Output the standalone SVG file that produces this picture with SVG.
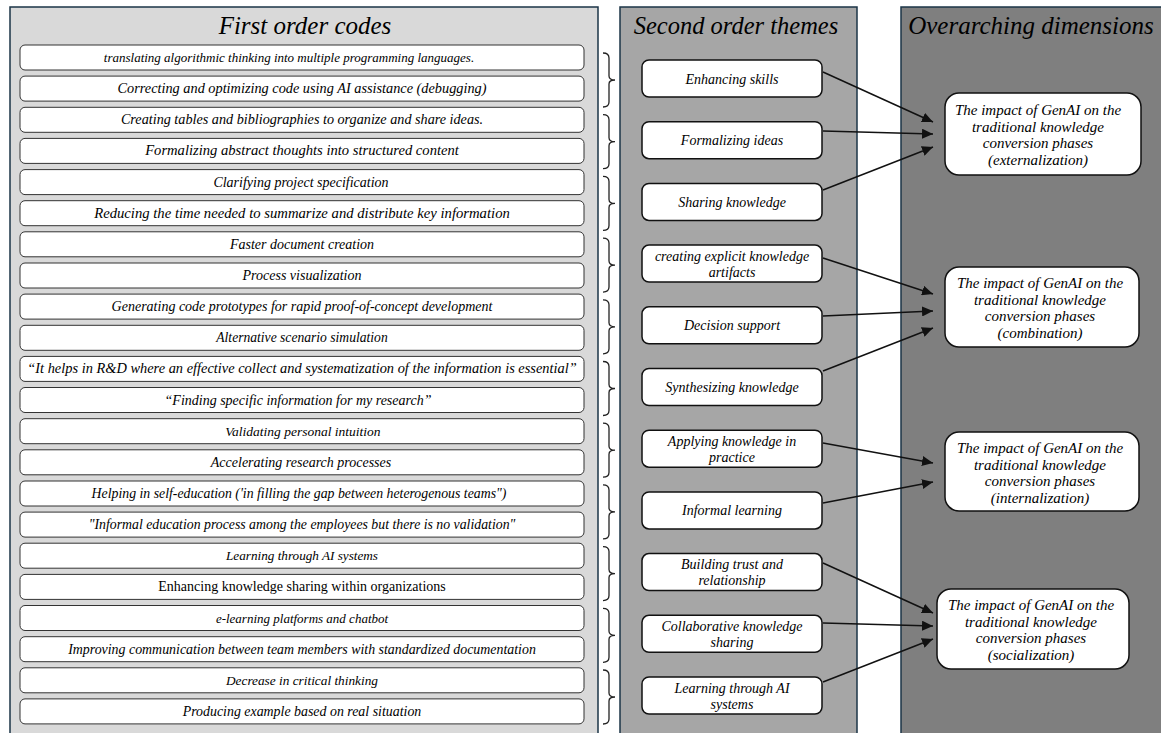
<svg xmlns="http://www.w3.org/2000/svg" width="1161" height="733" viewBox="0 0 1161 733" font-family="'Liberation Serif', 'Times New Roman', 'DejaVu Serif', serif">
<style>
text{font-family:'Liberation Serif','Times New Roman','DejaVu Serif',serif;font-style:italic;fill:#000;text-anchor:middle}
.hdr{font-size:25px}
.it{font-size:14px}
.up{font-style:normal}
.mid{font-size:14px}
.rt{font-size:15px}
.panel{stroke:#1b3447;stroke-width:1.5}
.ibox{fill:#fff;stroke:#333;stroke-width:1}
.mbox{fill:#fff;stroke:#111;stroke-width:1.5}
.rbox{fill:#fff;stroke:#111;stroke-width:1.5}
.br{fill:none;stroke:#222;stroke-width:1.3}
.con{stroke:#111;stroke-width:1.5;fill:none;marker-end:url(#ah)}
</style>
<defs>
<marker id="ah" markerUnits="userSpaceOnUse" markerWidth="12" markerHeight="10" refX="11" refY="5" orient="auto">
<path d="M0,0 L11,5 L0,10 Z" fill="#111"/>
</marker>
<path id="brk" d="M603,-27 Q609,-27 609,-22 L609,-4 Q609,0 615,0 Q609,0 609,4 L609,22 Q609,27 603,27" class="br"/>
</defs>
<rect width="1161" height="733" fill="#fff"/>
<g id="panels">
<rect x="10" y="7" width="588" height="740" fill="#d9d9d9" class="panel"/>
<rect x="620" y="7" width="237" height="740" fill="#a6a6a6" class="panel"/>
<rect x="901" y="7" width="270" height="740" fill="#7f7f7f" class="panel"/>
<text class="hdr" x="305" y="34">First order codes</text>
<text class="hdr" x="736" y="34" style="font-size:24.5px">Second order themes</text>
<text class="hdr" x="1031" y="34">Overarching dimensions</text>
</g>
<g id="first-order">
<g id="c0"><rect class="ibox" x="20" y="45" width="564" height="25" rx="5"/><text class="it" x="289" y="62" style="font-size:13px">translating algorithmic thinking into multiple programming languages.</text></g>
<g id="c1"><rect class="ibox" x="20" y="76.1" width="564" height="25" rx="5"/><text class="it" x="302" y="93.1" style="font-size:14.3px">Correcting and optimizing code using AI assistance (debugging)</text></g>
<g id="c2"><rect class="ibox" x="20" y="107.3" width="564" height="25" rx="5"/><text class="it" x="302" y="124.3" style="font-size:14.2px">Creating tables and bibliographies to organize and share ideas.</text></g>
<g id="c3"><rect class="ibox" x="20" y="138.4" width="564" height="25" rx="5"/><text class="it" x="302" y="155.4" style="font-size:14.6px">Formalizing abstract thoughts into structured content</text></g>
<g id="c4"><rect class="ibox" x="20" y="169.6" width="564" height="25" rx="5"/><text class="it" x="301" y="186.6">Clarifying project specification</text></g>
<g id="c5"><rect class="ibox" x="20" y="200.7" width="564" height="25" rx="5"/><text class="it" x="302" y="217.7" style="font-size:14.7px">Reducing the time needed to summarize and distribute key information</text></g>
<g id="c6"><rect class="ibox" x="20" y="231.8" width="564" height="25" rx="5"/><text class="it" x="302" y="248.8">Faster document creation</text></g>
<g id="c7"><rect class="ibox" x="20" y="263" width="564" height="25" rx="5"/><text class="it" x="302" y="280">Process visualization</text></g>
<g id="c8"><rect class="ibox" x="20" y="294.1" width="564" height="25" rx="5"/><text class="it" x="302" y="311.1">Generating code prototypes for rapid proof-of-concept development</text></g>
<g id="c9"><rect class="ibox" x="20" y="325.3" width="564" height="25" rx="5"/><text class="it" x="302" y="342.3" style="font-size:13.6px">Alternative scenario simulation</text></g>
<g id="c10"><rect class="ibox" x="20" y="356.4" width="564" height="25" rx="5"/><text class="it" x="302" y="373.4" style="font-size:14.4px">“It helps in R&amp;D where an effective collect and systematization of the information is essential”</text></g>
<g id="c11"><rect class="ibox" x="20" y="387.5" width="564" height="25" rx="5"/><text class="it" x="298" y="404.5">“Finding specific information for my research”</text></g>
<g id="c12"><rect class="ibox" x="20" y="418.7" width="564" height="25" rx="5"/><text class="it" x="303" y="435.7" style="font-size:13.5px">Validating personal intuition</text></g>
<g id="c13"><rect class="ibox" x="20" y="449.8" width="564" height="25" rx="5"/><text class="it" x="301" y="466.8">Accelerating research processes</text></g>
<g id="c14"><rect class="ibox" x="20" y="481" width="564" height="25" rx="5"/><text class="it" x="299" y="498" style="font-size:13.8px">Helping in self-education ('in filling the gap between heterogenous teams")</text></g>
<g id="c15"><rect class="ibox" x="20" y="512.1" width="564" height="25" rx="5"/><text class="it" x="302" y="529.1" style="font-size:13.8px">"Informal education process among the employees but there is no validation"</text></g>
<g id="c16"><rect class="ibox" x="20" y="543.2" width="564" height="25" rx="5"/><text class="it" x="302" y="560.2" style="font-size:13.2px">Learning through AI systems</text></g>
<g id="c17"><rect class="ibox" x="20" y="574.4" width="564" height="25" rx="5"/><text class="it up" x="302" y="591.4">Enhancing knowledge sharing within organizations</text></g>
<g id="c18"><rect class="ibox" x="20" y="605.5" width="564" height="25" rx="5"/><text class="it" x="302" y="622.5" style="font-size:13px">e-learning platforms and chatbot</text></g>
<g id="c19"><rect class="ibox" x="20" y="636.7" width="564" height="25" rx="5"/><text class="it" x="302" y="653.7" style="font-size:13.9px">Improving communication between team members with standardized documentation</text></g>
<g id="c20"><rect class="ibox" x="20" y="667.8" width="564" height="25" rx="5"/><text class="it" x="302" y="684.8" style="font-size:13.3px">Decrease in critical thinking</text></g>
<g id="c21"><rect class="ibox" x="20" y="698.9" width="564" height="25" rx="5"/><text class="it" x="302" y="715.9" style="font-size:13.9px">Producing example based on real situation</text></g>
</g>
<g id="brackets">
<use href="#brk" y="80"/>
<use href="#brk" y="141.7"/>
<use href="#brk" y="203.4"/>
<use href="#brk" y="265.1"/>
<use href="#brk" y="326.8"/>
<use href="#brk" y="388.5"/>
<use href="#brk" y="450.2"/>
<use href="#brk" y="511.9"/>
<use href="#brk" y="573.6"/>
<use href="#brk" y="635.3"/>
<use href="#brk" y="697"/>
</g>
<g id="second-order">
<g id="t0"><rect class="mbox" x="642" y="60" width="180" height="37" rx="7"/><text class="mid" x="732" y="83.5">Enhancing skills</text></g>
<g id="t1"><rect class="mbox" x="642" y="121.7" width="180" height="37" rx="7"/><text class="mid" x="732" y="145.2">Formalizing ideas</text></g>
<g id="t2"><rect class="mbox" x="642" y="183.4" width="180" height="37" rx="7"/><text class="mid" x="732" y="206.9">Sharing knowledge</text></g>
<g id="t3"><rect class="mbox" x="642" y="245.1" width="180" height="37" rx="7"/><text class="mid" x="732" y="260.6">creating explicit knowledge</text><text class="mid" x="732" y="276.6">artifacts</text></g>
<g id="t4"><rect class="mbox" x="642" y="306.8" width="180" height="37" rx="7"/><text class="mid" x="732" y="330.3">Decision support</text></g>
<g id="t5"><rect class="mbox" x="642" y="368.5" width="180" height="37" rx="7"/><text class="mid" x="732" y="392">Synthesizing knowledge</text></g>
<g id="t6"><rect class="mbox" x="642" y="430.2" width="180" height="37" rx="7"/><text class="mid" x="732" y="445.7">Applying knowledge in</text><text class="mid" x="732" y="461.7">practice</text></g>
<g id="t7"><rect class="mbox" x="642" y="491.9" width="180" height="37" rx="7"/><text class="mid" x="732" y="515.4">Informal learning</text></g>
<g id="t8"><rect class="mbox" x="642" y="553.6" width="180" height="37" rx="7"/><text class="mid" x="732" y="569.1">Building trust and</text><text class="mid" x="732" y="585.1">relationship</text></g>
<g id="t9"><rect class="mbox" x="642" y="615.3" width="180" height="37" rx="7"/><text class="mid" x="732" y="630.8">Collaborative knowledge</text><text class="mid" x="732" y="646.8">sharing</text></g>
<g id="t10"><rect class="mbox" x="642" y="677" width="180" height="37" rx="7"/><text class="mid" x="732" y="692.5">Learning through AI</text><text class="mid" x="732" y="708.5">systems</text></g>
</g>
<g id="dimensions">
<g id="d-ext"><rect class="rbox" x="945" y="93" width="196" height="82" rx="14"/>
<text class="rt" x="1038" y="115">The impact of GenAI on the</text><text class="rt" x="1038" y="131.5">traditional knowledge</text><text class="rt" x="1038" y="148">conversion phases</text><text class="rt" x="1038" y="164.5">(externalization)</text></g>
<g id="d-comb"><rect class="rbox" x="945" y="267" width="194" height="80" rx="14"/>
<text class="rt" x="1040" y="288">The impact of GenAI on the</text><text class="rt" x="1040" y="304.5">traditional knowledge</text><text class="rt" x="1040" y="321">conversion phases</text><text class="rt" x="1040" y="337.5">(combination)</text></g>
<g id="d-int"><rect class="rbox" x="945" y="432" width="194" height="79" rx="14"/>
<text class="rt" x="1040" y="453">The impact of GenAI on the</text><text class="rt" x="1040" y="469.5">traditional knowledge</text><text class="rt" x="1040" y="486">conversion phases</text><text class="rt" x="1040" y="502.5">(internalization)</text></g>
<g id="d-soc"><rect class="rbox" x="937" y="589" width="192" height="80" rx="14"/>
<text class="rt" x="1031" y="610">The impact of GenAI on the</text><text class="rt" x="1031" y="626.5">traditional knowledge</text><text class="rt" x="1031" y="643">conversion phases</text><text class="rt" x="1031" y="659.5">(socialization)</text></g>
</g>
<g id="connectors">
<line class="con" x1="823" y1="72" x2="933" y2="122"/>
<line class="con" x1="823" y1="131" x2="933" y2="134"/>
<line class="con" x1="823" y1="190" x2="933" y2="147"/>
<line class="con" x1="823" y1="258" x2="933" y2="294"/>
<line class="con" x1="823" y1="316" x2="933" y2="311"/>
<line class="con" x1="823" y1="371" x2="933" y2="328"/>
<line class="con" x1="823" y1="443" x2="933" y2="463"/>
<line class="con" x1="823" y1="503" x2="933" y2="482"/>
<line class="con" x1="823" y1="563" x2="933" y2="613"/>
<line class="con" x1="823" y1="623" x2="933" y2="626"/>
<line class="con" x1="823" y1="682" x2="933" y2="639"/>
</g>
</svg>
